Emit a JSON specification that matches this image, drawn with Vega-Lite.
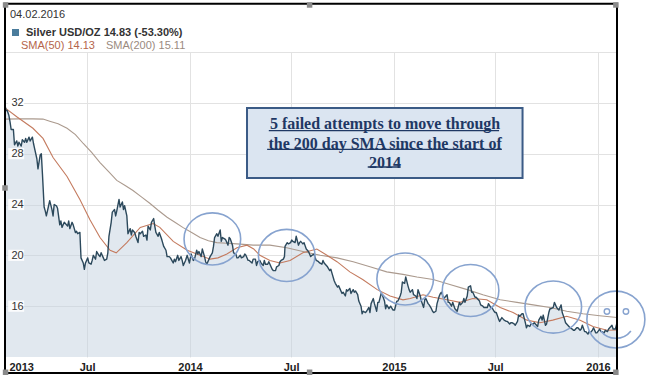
{
"$schema":"https://vega.github.io/schema/vega-lite/v6.json",
"width":612,"height":305,
"autosize":{"type":"none"},
"padding":{"left":5,"top":52,"right":30,"bottom":20},
"background":"white",
"config":{"view":{"stroke":null},"font":"Liberation Sans"},
"datasets":{
"silver":[
{"d":"2013-02-04","p":31.8},{"d":"2013-02-06","p":31.4},{"d":"2013-02-08","p":31.4},{"d":"2013-02-11","p":31.0},{"d":"2013-02-13","p":30.5},{"d":"2013-02-15","p":29.9},{"d":"2013-02-19","p":29.9},{"d":"2013-02-21","p":28.7},{"d":"2013-02-25","p":29.0},{"d":"2013-02-27","p":28.6},{"d":"2013-03-01","p":28.9},{"d":"2013-03-05","p":28.6},{"d":"2013-03-07","p":29.1},{"d":"2013-03-11","p":28.9},{"d":"2013-03-13","p":29.2},{"d":"2013-03-15","p":28.9},{"d":"2013-03-19","p":29.3},{"d":"2013-03-21","p":29.0},{"d":"2013-03-25","p":29.3},{"d":"2013-03-27","p":28.8},{"d":"2013-03-29","p":28.4},{"d":"2013-04-02","p":27.6},{"d":"2013-04-04","p":26.8},{"d":"2013-04-08","p":27.9},{"d":"2013-04-10","p":28.0},{"d":"2013-04-12","p":26.4},{"d":"2013-04-15","p":23.8},{"d":"2013-04-17","p":23.5},{"d":"2013-04-19","p":23.1},{"d":"2013-04-23","p":23.9},{"d":"2013-04-25","p":24.3},{"d":"2013-04-29","p":23.6},{"d":"2013-05-01","p":23.1},{"d":"2013-05-03","p":24.0},{"d":"2013-05-07","p":23.9},{"d":"2013-05-09","p":23.7},{"d":"2013-05-13","p":22.4},{"d":"2013-05-15","p":22.7},{"d":"2013-05-17","p":22.2},{"d":"2013-05-21","p":22.6},{"d":"2013-05-23","p":22.5},{"d":"2013-05-27","p":22.3},{"d":"2013-05-29","p":22.7},{"d":"2013-05-31","p":22.1},{"d":"2013-06-04","p":22.6},{"d":"2013-06-06","p":22.4},{"d":"2013-06-10","p":21.8},{"d":"2013-06-12","p":21.9},{"d":"2013-06-14","p":21.7},{"d":"2013-06-18","p":21.8},{"d":"2013-06-20","p":19.8},{"d":"2013-06-24","p":19.4},{"d":"2013-06-26","p":18.9},{"d":"2013-06-28","p":19.4},{"d":"2013-07-02","p":19.8},{"d":"2013-07-04","p":19.4},{"d":"2013-07-08","p":19.3},{"d":"2013-07-10","p":19.6},{"d":"2013-07-12","p":20.0},{"d":"2013-07-16","p":19.7},{"d":"2013-07-18","p":20.3},{"d":"2013-07-22","p":20.0},{"d":"2013-07-24","p":19.9},{"d":"2013-07-26","p":20.2},{"d":"2013-07-30","p":19.8},{"d":"2013-08-01","p":19.6},{"d":"2013-08-05","p":19.7},{"d":"2013-08-07","p":20.2},{"d":"2013-08-09","p":21.5},{"d":"2013-08-13","p":22.6},{"d":"2013-08-15","p":23.4},{"d":"2013-08-19","p":23.6},{"d":"2013-08-21","p":23.1},{"d":"2013-08-23","p":23.5},{"d":"2013-08-27","p":24.4},{"d":"2013-08-29","p":23.8},{"d":"2013-09-02","p":24.2},{"d":"2013-09-04","p":23.6},{"d":"2013-09-06","p":23.9},{"d":"2013-09-10","p":23.1},{"d":"2013-09-12","p":21.7},{"d":"2013-09-16","p":22.1},{"d":"2013-09-18","p":21.6},{"d":"2013-09-20","p":22.0},{"d":"2013-09-24","p":21.8},{"d":"2013-09-26","p":21.5},{"d":"2013-09-30","p":21.0},{"d":"2013-10-02","p":21.8},{"d":"2013-10-04","p":21.7},{"d":"2013-10-08","p":21.9},{"d":"2013-10-10","p":21.5},{"d":"2013-10-14","p":21.6},{"d":"2013-10-16","p":21.2},{"d":"2013-10-18","p":22.3},{"d":"2013-10-22","p":22.0},{"d":"2013-10-24","p":22.6},{"d":"2013-10-28","p":22.9},{"d":"2013-10-30","p":22.3},{"d":"2013-11-01","p":21.8},{"d":"2013-11-05","p":21.5},{"d":"2013-11-07","p":21.8},{"d":"2013-11-11","p":21.3},{"d":"2013-11-13","p":21.0},{"d":"2013-11-15","p":20.7},{"d":"2013-11-19","p":20.4},{"d":"2013-11-21","p":19.9},{"d":"2013-11-25","p":19.9},{"d":"2013-11-27","p":19.8},{"d":"2013-12-02","p":19.4},{"d":"2013-12-04","p":19.7},{"d":"2013-12-06","p":19.5},{"d":"2013-12-10","p":20.0},{"d":"2013-12-12","p":19.6},{"d":"2013-12-16","p":19.9},{"d":"2013-12-18","p":19.6},{"d":"2013-12-20","p":19.2},{"d":"2013-12-24","p":19.6},{"d":"2013-12-27","p":20.0},{"d":"2013-12-31","p":19.4},
{"d":"2014-01-03","p":20.1},{"d":"2014-01-07","p":19.6},{"d":"2014-01-09","p":19.7},{"d":"2014-01-13","p":20.4},{"d":"2014-01-15","p":20.1},{"d":"2014-01-17","p":20.3},{"d":"2014-01-21","p":19.9},{"d":"2014-01-23","p":20.5},{"d":"2014-01-27","p":19.9},{"d":"2014-01-29","p":19.5},{"d":"2014-01-31","p":19.3},{"d":"2014-02-04","p":19.7},{"d":"2014-02-06","p":19.9},{"d":"2014-02-10","p":20.2},{"d":"2014-02-12","p":20.7},{"d":"2014-02-14","p":21.4},{"d":"2014-02-18","p":21.7},{"d":"2014-02-20","p":21.5},{"d":"2014-02-24","p":22.0},{"d":"2014-02-26","p":21.1},{"d":"2014-02-28","p":21.4},{"d":"2014-03-04","p":21.3},{"d":"2014-03-06","p":21.2},{"d":"2014-03-10","p":20.8},{"d":"2014-03-12","p":21.4},{"d":"2014-03-14","p":21.3},{"d":"2014-03-18","p":20.8},{"d":"2014-03-20","p":20.2},{"d":"2014-03-24","p":20.1},{"d":"2014-03-26","p":19.8},{"d":"2014-03-28","p":19.8},{"d":"2014-04-01","p":20.0},{"d":"2014-04-03","p":19.8},{"d":"2014-04-07","p":19.9},{"d":"2014-04-09","p":20.1},{"d":"2014-04-11","p":20.0},{"d":"2014-04-15","p":19.6},{"d":"2014-04-17","p":19.6},{"d":"2014-04-22","p":19.4},{"d":"2014-04-24","p":19.7},{"d":"2014-04-28","p":19.7},{"d":"2014-04-30","p":19.2},{"d":"2014-05-02","p":19.5},{"d":"2014-05-06","p":19.6},{"d":"2014-05-08","p":19.4},{"d":"2014-05-12","p":19.2},{"d":"2014-05-14","p":19.6},{"d":"2014-05-16","p":19.3},{"d":"2014-05-20","p":19.3},{"d":"2014-05-22","p":19.5},{"d":"2014-05-26","p":19.1},{"d":"2014-05-28","p":18.9},{"d":"2014-05-30","p":18.8},{"d":"2014-06-03","p":18.8},{"d":"2014-06-05","p":19.1},{"d":"2014-06-09","p":19.2},{"d":"2014-06-11","p":19.5},{"d":"2014-06-13","p":19.6},{"d":"2014-06-17","p":19.7},{"d":"2014-06-19","p":19.9},{"d":"2014-06-20","p":20.7},{"d":"2014-06-24","p":21.0},{"d":"2014-06-26","p":20.9},{"d":"2014-06-30","p":21.0},{"d":"2014-07-02","p":21.2},{"d":"2014-07-04","p":21.1},{"d":"2014-07-08","p":21.0},{"d":"2014-07-10","p":21.5},{"d":"2014-07-14","p":20.8},{"d":"2014-07-16","p":21.0},{"d":"2014-07-18","p":21.1},{"d":"2014-07-22","p":20.9},{"d":"2014-07-24","p":21.0},{"d":"2014-07-28","p":20.5},{"d":"2014-07-30","p":20.4},{"d":"2014-08-01","p":20.3},{"d":"2014-08-05","p":19.9},{"d":"2014-08-07","p":20.0},{"d":"2014-08-11","p":20.1},{"d":"2014-08-13","p":19.8},{"d":"2014-08-15","p":19.6},{"d":"2014-08-19","p":19.5},{"d":"2014-08-21","p":19.4},{"d":"2014-08-25","p":19.3},{"d":"2014-08-27","p":19.6},{"d":"2014-08-29","p":19.4},{"d":"2014-09-02","p":19.2},{"d":"2014-09-04","p":19.1},{"d":"2014-09-08","p":18.8},{"d":"2014-09-10","p":18.9},{"d":"2014-09-12","p":18.6},{"d":"2014-09-16","p":18.0},{"d":"2014-09-18","p":17.8},{"d":"2014-09-22","p":17.5},{"d":"2014-09-24","p":17.6},{"d":"2014-09-26","p":17.4},{"d":"2014-09-30","p":17.0},{"d":"2014-10-02","p":17.1},{"d":"2014-10-06","p":16.8},{"d":"2014-10-08","p":17.3},{"d":"2014-10-10","p":17.2},{"d":"2014-10-14","p":17.4},{"d":"2014-10-16","p":17.0},{"d":"2014-10-20","p":17.3},{"d":"2014-10-22","p":17.1},{"d":"2014-10-24","p":17.2},{"d":"2014-10-28","p":16.9},{"d":"2014-10-30","p":16.4},{"d":"2014-11-03","p":16.0},{"d":"2014-11-05","p":15.4},{"d":"2014-11-07","p":15.6},{"d":"2014-11-11","p":15.5},{"d":"2014-11-13","p":15.6},{"d":"2014-11-17","p":15.9},{"d":"2014-11-19","p":15.5},{"d":"2014-11-21","p":16.2},{"d":"2014-11-25","p":16.6},{"d":"2014-11-27","p":16.2},{"d":"2014-12-01","p":15.6},{"d":"2014-12-03","p":16.3},{"d":"2014-12-05","p":16.3},{"d":"2014-12-09","p":17.0},{"d":"2014-12-11","p":16.9},{"d":"2014-12-15","p":16.4},{"d":"2014-12-17","p":15.8},{"d":"2014-12-19","p":16.1},{"d":"2014-12-23","p":15.8},{"d":"2014-12-26","p":16.0},{"d":"2014-12-30","p":15.7},
{"d":"2015-01-02","p":15.7},{"d":"2015-01-06","p":16.4},{"d":"2015-01-08","p":16.4},{"d":"2015-01-12","p":16.8},{"d":"2015-01-14","p":17.1},{"d":"2015-01-16","p":17.9},{"d":"2015-01-20","p":17.8},{"d":"2015-01-22","p":18.3},{"d":"2015-01-26","p":17.6},{"d":"2015-01-28","p":17.3},{"d":"2015-01-30","p":17.1},{"d":"2015-02-03","p":17.3},{"d":"2015-02-05","p":16.9},{"d":"2015-02-09","p":16.8},{"d":"2015-02-11","p":16.6},{"d":"2015-02-13","p":17.3},{"d":"2015-02-17","p":16.8},{"d":"2015-02-19","p":16.4},{"d":"2015-02-23","p":15.9},{"d":"2015-02-25","p":16.5},{"d":"2015-02-27","p":16.6},{"d":"2015-03-03","p":16.2},{"d":"2015-03-05","p":16.1},{"d":"2015-03-09","p":15.8},{"d":"2015-03-11","p":15.6},{"d":"2015-03-13","p":15.5},{"d":"2015-03-17","p":15.6},{"d":"2015-03-19","p":16.2},{"d":"2015-03-23","p":16.8},{"d":"2015-03-25","p":17.0},{"d":"2015-03-27","p":17.1},{"d":"2015-03-31","p":16.6},{"d":"2015-04-02","p":16.7},{"d":"2015-04-06","p":16.9},{"d":"2015-04-08","p":16.3},{"d":"2015-04-10","p":16.3},{"d":"2015-04-14","p":16.0},{"d":"2015-04-16","p":16.3},{"d":"2015-04-20","p":15.8},{"d":"2015-04-22","p":15.7},{"d":"2015-04-24","p":15.6},{"d":"2015-04-28","p":16.3},{"d":"2015-04-30","p":16.1},{"d":"2015-05-04","p":16.3},{"d":"2015-05-06","p":16.6},{"d":"2015-05-08","p":16.3},{"d":"2015-05-12","p":16.8},{"d":"2015-05-14","p":17.5},{"d":"2015-05-18","p":17.6},{"d":"2015-05-20","p":17.1},{"d":"2015-05-22","p":17.1},{"d":"2015-05-26","p":16.7},{"d":"2015-05-28","p":16.7},{"d":"2015-06-01","p":16.5},{"d":"2015-06-03","p":16.4},{"d":"2015-06-05","p":16.1},{"d":"2015-06-09","p":16.0},{"d":"2015-06-11","p":15.9},{"d":"2015-06-15","p":15.9},{"d":"2015-06-17","p":15.9},{"d":"2015-06-19","p":16.2},{"d":"2015-06-23","p":15.9},{"d":"2015-06-25","p":15.9},{"d":"2015-06-29","p":15.6},{"d":"2015-07-01","p":15.5},{"d":"2015-07-03","p":15.5},{"d":"2015-07-07","p":15.0},{"d":"2015-07-09","p":14.8},{"d":"2015-07-13","p":15.1},{"d":"2015-07-15","p":15.0},{"d":"2015-07-17","p":14.9},{"d":"2015-07-21","p":14.8},{"d":"2015-07-23","p":14.8},{"d":"2015-07-27","p":14.6},{"d":"2015-07-29","p":14.7},{"d":"2015-07-31","p":14.7},{"d":"2015-08-04","p":14.6},{"d":"2015-08-06","p":14.5},{"d":"2015-08-10","p":14.8},{"d":"2015-08-12","p":15.3},{"d":"2015-08-14","p":15.2},{"d":"2015-08-18","p":15.4},{"d":"2015-08-20","p":15.4},{"d":"2015-08-24","p":14.7},{"d":"2015-08-26","p":14.3},{"d":"2015-08-28","p":14.5},{"d":"2015-09-01","p":14.4},{"d":"2015-09-03","p":14.6},{"d":"2015-09-07","p":14.6},{"d":"2015-09-09","p":14.7},{"d":"2015-09-11","p":14.6},{"d":"2015-09-15","p":14.4},{"d":"2015-09-17","p":14.9},{"d":"2015-09-21","p":15.2},{"d":"2015-09-23","p":14.9},{"d":"2015-09-25","p":15.3},{"d":"2015-09-29","p":14.5},{"d":"2015-10-01","p":14.6},{"d":"2015-10-05","p":15.5},{"d":"2015-10-07","p":15.8},{"d":"2015-10-09","p":15.8},{"d":"2015-10-13","p":15.9},{"d":"2015-10-15","p":16.3},{"d":"2015-10-19","p":15.9},{"d":"2015-10-21","p":15.8},{"d":"2015-10-23","p":15.7},{"d":"2015-10-27","p":16.1},{"d":"2015-10-29","p":15.5},{"d":"2015-11-02","p":15.0},{"d":"2015-11-04","p":14.7},{"d":"2015-11-06","p":14.6},{"d":"2015-11-10","p":14.4},{"d":"2015-11-12","p":14.3},{"d":"2015-11-16","p":14.2},{"d":"2015-11-18","p":14.1},{"d":"2015-11-20","p":14.1},{"d":"2015-11-24","p":14.3},{"d":"2015-11-26","p":14.3},{"d":"2015-11-30","p":14.1},{"d":"2015-12-02","p":14.2},{"d":"2015-12-04","p":14.5},{"d":"2015-12-08","p":14.0},{"d":"2015-12-10","p":14.0},{"d":"2015-12-14","p":13.8},{"d":"2015-12-16","p":14.0},{"d":"2015-12-18","p":13.9},{"d":"2015-12-22","p":14.1},{"d":"2015-12-24","p":14.3},{"d":"2015-12-28","p":13.9},{"d":"2015-12-30","p":13.9},
{"d":"2016-01-04","p":14.2},{"d":"2016-01-06","p":14.0},{"d":"2016-01-08","p":14.0},{"d":"2016-01-12","p":13.9},{"d":"2016-01-14","p":14.1},{"d":"2016-01-18","p":14.0},{"d":"2016-01-20","p":14.2},{"d":"2016-01-22","p":14.3},{"d":"2016-01-26","p":14.5},{"d":"2016-01-28","p":14.2},{"d":"2016-02-01","p":14.2},{"d":"2016-02-03","p":14.5},{"d":"2016-02-04","p":14.83}
],
"sma":[
{"d":"2013-02-04","s":"SMA(200) 15.11","v":30.72},{"d":"2013-03-01","s":"SMA(200) 15.11","v":30.74},{"d":"2013-03-26","s":"SMA(200) 15.11","v":30.74},{"d":"2013-04-13","s":"SMA(200) 15.11","v":30.72},{"d":"2013-04-25","s":"SMA(200) 15.11","v":30.55},{"d":"2013-05-10","s":"SMA(200) 15.11","v":30.35},{"d":"2013-05-26","s":"SMA(200) 15.11","v":30.0},{"d":"2013-06-10","s":"SMA(200) 15.11","v":29.5},{"d":"2013-06-24","s":"SMA(200) 15.11","v":28.8},{"d":"2013-07-09","s":"SMA(200) 15.11","v":28.1},{"d":"2013-07-24","s":"SMA(200) 15.11","v":27.3},{"d":"2013-08-08","s":"SMA(200) 15.11","v":26.6},{"d":"2013-08-23","s":"SMA(200) 15.11","v":25.9},{"d":"2013-09-07","s":"SMA(200) 15.11","v":25.5},{"d":"2013-09-21","s":"SMA(200) 15.11","v":25.1},{"d":"2013-10-06","s":"SMA(200) 15.11","v":24.6},{"d":"2013-10-21","s":"SMA(200) 15.11","v":24.1},{"d":"2013-11-05","s":"SMA(200) 15.11","v":23.55},{"d":"2013-11-21","s":"SMA(200) 15.11","v":23.0},{"d":"2013-12-05","s":"SMA(200) 15.11","v":22.6},{"d":"2013-12-19","s":"SMA(200) 15.11","v":22.2},{"d":"2014-01-04","s":"SMA(200) 15.11","v":21.8},{"d":"2014-01-19","s":"SMA(200) 15.11","v":21.4},{"d":"2014-02-03","s":"SMA(200) 15.11","v":21.15},{"d":"2014-02-18","s":"SMA(200) 15.11","v":21.0},{"d":"2014-03-08","s":"SMA(200) 15.11","v":20.95},{"d":"2014-03-26","s":"SMA(200) 15.11","v":20.9},{"d":"2014-04-24","s":"SMA(200) 15.11","v":20.8},{"d":"2014-05-24","s":"SMA(200) 15.11","v":20.8},{"d":"2014-06-23","s":"SMA(200) 15.11","v":20.6},{"d":"2014-07-22","s":"SMA(200) 15.11","v":20.3},{"d":"2014-08-22","s":"SMA(200) 15.11","v":20.0},{"d":"2014-09-21","s":"SMA(200) 15.11","v":19.8},{"d":"2014-10-20","s":"SMA(200) 15.11","v":19.5},{"d":"2014-11-19","s":"SMA(200) 15.11","v":19.1},{"d":"2014-12-19","s":"SMA(200) 15.11","v":18.7},{"d":"2015-01-17","s":"SMA(200) 15.11","v":18.5},{"d":"2015-02-11","s":"SMA(200) 15.11","v":18.3},{"d":"2015-03-12","s":"SMA(200) 15.11","v":18.1},{"d":"2015-04-11","s":"SMA(200) 15.11","v":17.7},{"d":"2015-05-12","s":"SMA(200) 15.11","v":17.3},{"d":"2015-06-09","s":"SMA(200) 15.11","v":16.9},{"d":"2015-07-10","s":"SMA(200) 15.11","v":16.5},{"d":"2015-08-09","s":"SMA(200) 15.11","v":16.3},{"d":"2015-09-07","s":"SMA(200) 15.11","v":16.1},{"d":"2015-10-07","s":"SMA(200) 15.11","v":15.9},{"d":"2015-11-06","s":"SMA(200) 15.11","v":15.6},{"d":"2015-12-05","s":"SMA(200) 15.11","v":15.4},{"d":"2016-01-04","s":"SMA(200) 15.11","v":15.25},{"d":"2016-02-04","s":"SMA(200) 15.11","v":15.11},
{"d":"2013-02-04","s":"SMA(50) 14.13","v":31.6},{"d":"2013-02-25","s":"SMA(50) 14.13","v":30.9},{"d":"2013-03-26","s":"SMA(50) 14.13","v":30.0},{"d":"2013-04-13","s":"SMA(50) 14.13","v":29.2},{"d":"2013-05-01","s":"SMA(50) 14.13","v":27.7},{"d":"2013-05-26","s":"SMA(50) 14.13","v":26.2},{"d":"2013-06-18","s":"SMA(50) 14.13","v":24.4},{"d":"2013-07-06","s":"SMA(50) 14.13","v":22.8},{"d":"2013-07-24","s":"SMA(50) 14.13","v":21.4},{"d":"2013-08-11","s":"SMA(50) 14.13","v":20.4},{"d":"2013-08-22","s":"SMA(50) 14.13","v":20.2},{"d":"2013-09-10","s":"SMA(50) 14.13","v":21.0},{"d":"2013-10-04","s":"SMA(50) 14.13","v":22.2},{"d":"2013-10-27","s":"SMA(50) 14.13","v":22.5},{"d":"2013-11-08","s":"SMA(50) 14.13","v":22.2},{"d":"2013-12-02","s":"SMA(50) 14.13","v":21.1},{"d":"2013-12-27","s":"SMA(50) 14.13","v":20.4},{"d":"2014-01-19","s":"SMA(50) 14.13","v":20.0},{"d":"2014-02-06","s":"SMA(50) 14.13","v":19.7},{"d":"2014-02-20","s":"SMA(50) 14.13","v":19.8},{"d":"2014-03-08","s":"SMA(50) 14.13","v":20.1},{"d":"2014-03-26","s":"SMA(50) 14.13","v":20.6},{"d":"2014-04-13","s":"SMA(50) 14.13","v":20.8},{"d":"2014-04-25","s":"SMA(50) 14.13","v":20.5},{"d":"2014-05-06","s":"SMA(50) 14.13","v":20.0},{"d":"2014-05-24","s":"SMA(50) 14.13","v":19.6},{"d":"2014-06-11","s":"SMA(50) 14.13","v":19.4},{"d":"2014-06-29","s":"SMA(50) 14.13","v":19.6},{"d":"2014-07-22","s":"SMA(50) 14.13","v":20.2},{"d":"2014-08-16","s":"SMA(50) 14.13","v":20.5},{"d":"2014-09-03","s":"SMA(50) 14.13","v":20.0},{"d":"2014-09-21","s":"SMA(50) 14.13","v":19.5},{"d":"2014-10-14","s":"SMA(50) 14.13","v":18.7},{"d":"2014-11-06","s":"SMA(50) 14.13","v":18.1},{"d":"2014-12-02","s":"SMA(50) 14.13","v":17.3},{"d":"2014-12-25","s":"SMA(50) 14.13","v":16.8},{"d":"2015-01-17","s":"SMA(50) 14.13","v":16.5},{"d":"2015-01-30","s":"SMA(50) 14.13","v":16.6},{"d":"2015-02-22","s":"SMA(50) 14.13","v":16.9},{"d":"2015-03-12","s":"SMA(50) 14.13","v":16.7},{"d":"2015-04-06","s":"SMA(50) 14.13","v":16.5},{"d":"2015-04-29","s":"SMA(50) 14.13","v":16.3},{"d":"2015-05-22","s":"SMA(50) 14.13","v":16.6},{"d":"2015-06-16","s":"SMA(50) 14.13","v":16.5},{"d":"2015-07-10","s":"SMA(50) 14.13","v":15.9},{"d":"2015-08-02","s":"SMA(50) 14.13","v":15.5},{"d":"2015-08-27","s":"SMA(50) 14.13","v":14.9},{"d":"2015-09-19","s":"SMA(50) 14.13","v":14.7},{"d":"2015-10-12","s":"SMA(50) 14.13","v":14.9},{"d":"2015-11-06","s":"SMA(50) 14.13","v":15.2},{"d":"2015-11-30","s":"SMA(50) 14.13","v":14.9},{"d":"2015-12-23","s":"SMA(50) 14.13","v":14.4},{"d":"2016-01-17","s":"SMA(50) 14.13","v":14.1},{"d":"2016-02-04","s":"SMA(50) 14.13","v":14.13}
],
"attempts":[{"d":"2014-02-10","v":21.29},{"d":"2014-06-23","v":19.99},{"d":"2015-01-21","v":18.14},{"d":"2015-05-18","v":17.23},{"d":"2015-10-13","v":15.93}],
"yticks":[{"t":16},{"t":20},{"t":24},{"t":28},{"t":32}],
"one":[{}]
},
"layer":[
{"data":{"name":"silver"},
 "mark":{"type":"area","fill":"#c3d1df","fillOpacity":0.5},
 "encoding":{
  "x":{"field":"d","type":"temporal","title":null,
   "scale":{"type":"utc","domain":[{"year":2013,"month":2,"date":4,"utc":true},{"year":2016,"month":2,"date":4,"utc":true}]},
   "axis":{"values":[{"year":2013,"month":2,"date":4,"utc":true},{"year":2013,"month":7,"date":1,"utc":true},{"year":2014,"month":1,"date":1,"utc":true},{"year":2014,"month":7,"date":1,"utc":true},{"year":2015,"month":1,"date":1,"utc":true},{"year":2015,"month":7,"date":1,"utc":true},{"year":2016,"month":1,"date":1,"utc":true}],
    "labelExpr":"utcmonth(datum.value)==6 ? 'Jul' : utcFormat(datum.value,'%Y')",
    "grid":true,"gridColor":"#e2e2e2","domain":false,"ticks":false,"tickSize":0,"labelPadding":4,
    "labelFont":"Liberation Sans","labelFontWeight":"bold","labelFontSize":11,"labelColor":"#222","labelFlush":true,"labelFlushOffset":-4,"labelOverlap":false}},
  "y":{"field":"p","type":"quantitative","title":null,"scale":{"domain":[12,36],"nice":false,"zero":false},
   "axis":{"values":[16,20,24,28,32,36],"grid":true,"gridColor":"#e2e2e2","labels":false,"domain":false,"ticks":false,"tickSize":0}},
  "y2":{"datum":12}
 }},
{"data":{"name":"sma"},
 "mark":{"type":"line","strokeWidth":1.1},
 "encoding":{
  "x":{"field":"d","type":"temporal","title":null,"scale":{"type":"utc","domain":[{"year":2013,"month":2,"date":4,"utc":true},{"year":2016,"month":2,"date":4,"utc":true}]}},
  "y":{"field":"v","type":"quantitative","title":null,"axis":null,"scale":{"domain":[12,36],"nice":false,"zero":false}},
  "color":{"field":"s","type":"nominal","scale":{"domain":["SMA(50) 14.13","SMA(200) 15.11"],"range":["#c47b5f","#ab9a8e"]},
   "legend":{"orient":"none","legendX":5,"legendY":-12,"direction":"horizontal","title":null,"symbolSize":0,"symbolOpacity":0,"symbolStrokeWidth":0,"labelOffset":0,"columnPadding":-6,"labelFont":"Liberation Sans","labelFontSize":11,"labelColor":"#333",
    "encode":{"labels":{"update":{"fill":{"signal":"datum.value == 'SMA(50) 14.13' ? '#b5654b' : '#9a8a80'"}}}}}}
 }},
{"data":{"name":"silver"},
 "mark":{"type":"line","strokeWidth":1.4,"strokeJoin":"round"},
 "encoding":{
  "x":{"field":"d","type":"temporal","title":null,"scale":{"type":"utc","domain":[{"year":2013,"month":2,"date":4,"utc":true},{"year":2016,"month":2,"date":4,"utc":true}]}},
  "y":{"field":"p","type":"quantitative","title":null,"axis":null,"scale":{"domain":[12,36],"nice":false,"zero":false}},
  "color":{"datum":"Silver USD/OZ 14.83 (-53.30%)","type":"nominal","scale":{"range":["#2c495c"]},
   "legend":{"orient":"none","legendX":5,"legendY":-43,"title":"04.02.2016","titleFont":"Liberation Sans","titleFontSize":11,"titleFontWeight":"normal","titleColor":"#333","titlePadding":7,
    "symbolType":"square","symbolSize":49,"labelFont":"Liberation Sans","labelFontSize":11,"labelFontWeight":"bold","labelColor":"#333","labelOffset":5,
    "encode":{"symbols":{"update":{"fill":{"value":"#4a7c9c"},"stroke":{"value":"#4a7c9c"},"strokeWidth":{"value":0},"opacity":{"value":1}}}}}}
 }},
{"data":{"name":"yticks"},
 "mark":{"type":"point","shape":"M-1,-0.7H1V0.7H-1Z","size":256,"filled":true,"fill":"white","opacity":0.85,"strokeWidth":0},
 "encoding":{
  "x":{"datum":{"year":2013,"month":2,"date":24,"utc":true},"type":"temporal","scale":{"type":"utc","domain":[{"year":2013,"month":2,"date":4,"utc":true},{"year":2016,"month":2,"date":4,"utc":true}]}},
  "y":{"field":"t","type":"quantitative","title":null,"scale":{"domain":[12,36],"nice":false,"zero":false},
   "axis":{"orient":"left","values":[16,20,24,28,32],"grid":false,"domain":false,"ticks":false,"tickSize":0,"labelAlign":"left","labelPadding":-6,"labelFont":"Liberation Sans","labelFontSize":11,"labelColor":"#333","zindex":1}}
 }},
{"data":{"name":"one"},
 "mark":{"type":"rect","fill":"#dbe5f1","stroke":"#3b5b86","strokeWidth":2},
 "encoding":{
  "x":{"datum":{"year":2014,"month":4,"date":13,"utc":true},"type":"temporal"},
  "x2":{"datum":{"year":2015,"month":8,"date":19,"utc":true}},
  "y":{"datum":31.59,"type":"quantitative","axis":null},
  "y2":{"datum":26.08}
 }},
{"data":{"name":"one"},
 "mark":{"type":"text","text":["5 failed attempts to move through","the 200 day SMA since the start of","2014"],"font":"Liberation Serif","fontSize":16,"fontWeight":"bold","color":"#1f3864","align":"center","baseline":"middle","lineHeight":19.5},
 "encoding":{
  "x":{"datum":{"year":2014,"month":12,"date":16,"utc":true},"type":"temporal"},
  "y":{"datum":30.33,"type":"quantitative","axis":null}
 }},
{"data":{"name":"one"},
 "mark":{"type":"rule","color":"#1f3864","strokeWidth":1.3},
 "encoding":{
  "x":{"datum":{"year":2014,"month":5,"date":22,"utc":true},"type":"temporal"},
  "x2":{"datum":{"year":2015,"month":7,"date":8,"utc":true}},
  "y":{"datum":29.82,"type":"quantitative","axis":null}
 }},
{"data":{"name":"one"},
 "mark":{"type":"rule","color":"#1f3864","strokeWidth":1.3},
 "encoding":{
  "x":{"datum":{"year":2014,"month":5,"date":19,"utc":true},"type":"temporal"},
  "x2":{"datum":{"year":2015,"month":7,"date":13,"utc":true}},
  "y":{"datum":28.33,"type":"quantitative","axis":null}
 }},
{"data":{"name":"one"},
 "mark":{"type":"rule","color":"#1f3864","strokeWidth":1.3},
 "encoding":{
  "x":{"datum":{"year":2014,"month":11,"date":15,"utc":true},"type":"temporal"},
  "x2":{"datum":{"year":2015,"month":1,"date":13,"utc":true}},
  "y":{"datum":26.95,"type":"quantitative","axis":null}
 }},
{"data":{"name":"attempts"},
 "mark":{"type":"point","shape":"M1,0C1,0.508,0.552,0.92,0,0.92C-0.552,0.92,-1,0.508,-1,0C-1,-0.508,-0.552,-0.92,0,-0.92C0.552,-0.92,1,-0.508,1,0Z","size":3204,"filled":false,"stroke":"#87a3cf","strokeWidth":1.6,"opacity":1},
 "encoding":{
  "x":{"field":"d","type":"temporal"},
  "y":{"field":"v","type":"quantitative","axis":null}
 }},
{"data":{"name":"one"},
 "mark":{"type":"point","shape":"M1,0C1,0.541,0.552,0.98,0,0.98C-0.552,0.98,-1,0.541,-1,0C-1,-0.541,-0.552,-0.98,0,-0.98C0.552,-0.98,1,-0.541,1,0Z","size":3364,"filled":false,"stroke":"#87a3cf","strokeWidth":1.6,"opacity":1},
 "encoding":{
  "x":{"datum":{"year":2016,"month":2,"date":2,"utc":true},"type":"temporal"},
  "y":{"datum":14.95,"type":"quantitative","axis":null}
 }},
{"data":{"name":"one"},
 "mark":{"type":"point","shape":"circle","size":30,"filled":false,"stroke":"#87a3cf","strokeWidth":1.4,"opacity":1},
 "encoding":{
  "x":{"datum":{"year":2016,"month":1,"date":17,"utc":true},"type":"temporal"},
  "y":{"datum":15.58,"type":"quantitative","axis":null}
 }},
{"data":{"name":"one"},
 "mark":{"type":"point","shape":"circle","size":30,"filled":false,"stroke":"#87a3cf","strokeWidth":1.4,"opacity":1},
 "encoding":{
  "x":{"datum":{"year":2016,"month":2,"date":20,"utc":true},"type":"temporal"},
  "y":{"datum":15.58,"type":"quantitative","axis":null}
 }},
{"data":{"name":"one"},
 "mark":{"type":"point","shape":"M-1,0C-0.5,0.65,0.5,0.65,1,0","size":900,"filled":false,"stroke":"#87a3cf","strokeWidth":1.6,"opacity":1},
 "encoding":{
  "x":{"datum":{"year":2016,"month":2,"date":2,"utc":true},"type":"temporal"},
  "y":{"datum":14.05,"type":"quantitative","axis":null}
 }},
{"data":{"name":"one"},
 "mark":{"type":"rect","fill":"transparent","stroke":"black","strokeWidth":2},
 "encoding":{
  "x":{"datum":{"year":2013,"month":2,"date":4,"utc":true},"type":"temporal"},
  "x2":{"datum":{"year":2016,"month":2,"date":4,"utc":true}},
  "y":{"datum":39.8,"type":"quantitative","axis":null},
  "y2":{"datum":10.74}
 }},
{"data":{"name":"one"},
 "mark":{"type":"point","shape":"square","size":30,"filled":true,"color":"#8a8a8a","opacity":1},
 "encoding":{"x":{"datum":{"year":2013,"month":2,"date":5,"utc":true},"type":"temporal"},"y":{"datum":39.7,"type":"quantitative","axis":null}}},
{"data":{"name":"one"},
 "mark":{"type":"point","shape":"square","size":30,"filled":true,"color":"#8a8a8a","opacity":1},
 "encoding":{"x":{"datum":{"year":2014,"month":8,"date":3,"utc":true},"type":"temporal"},"y":{"datum":39.7,"type":"quantitative","axis":null}}},
{"data":{"name":"one"},
 "mark":{"type":"point","shape":"square","size":30,"filled":true,"color":"#8a8a8a","opacity":1},
 "encoding":{"x":{"datum":{"year":2016,"month":2,"date":2,"utc":true},"type":"temporal"},"y":{"datum":39.7,"type":"quantitative","axis":null}}},
{"data":{"name":"one"},
 "mark":{"type":"point","shape":"square","size":30,"filled":true,"color":"#8a8a8a","opacity":1},
 "encoding":{"x":{"datum":{"year":2013,"month":2,"date":4,"utc":true},"type":"temporal"},"y":{"datum":25.3,"type":"quantitative","axis":null}}},
{"data":{"name":"one"},
 "mark":{"type":"point","shape":"square","size":30,"filled":true,"color":"#8a8a8a","opacity":1},
 "encoding":{"x":{"datum":{"year":2013,"month":2,"date":5,"utc":true},"type":"temporal"},"y":{"datum":10.8,"type":"quantitative","axis":null}}},
{"data":{"name":"one"},
 "mark":{"type":"point","shape":"square","size":30,"filled":true,"color":"#8a8a8a","opacity":1},
 "encoding":{"x":{"datum":{"year":2014,"month":8,"date":3,"utc":true},"type":"temporal"},"y":{"datum":10.8,"type":"quantitative","axis":null}}},
{"data":{"name":"one"},
 "mark":{"type":"point","shape":"square","size":30,"filled":true,"color":"#8a8a8a","opacity":1},
 "encoding":{"x":{"datum":{"year":2016,"month":2,"date":2,"utc":true},"type":"temporal"},"y":{"datum":10.8,"type":"quantitative","axis":null}}}
],
"resolve":{"scale":{"color":"independent"},"legend":{"color":"independent"},"axis":{"y":"independent"}}
}
